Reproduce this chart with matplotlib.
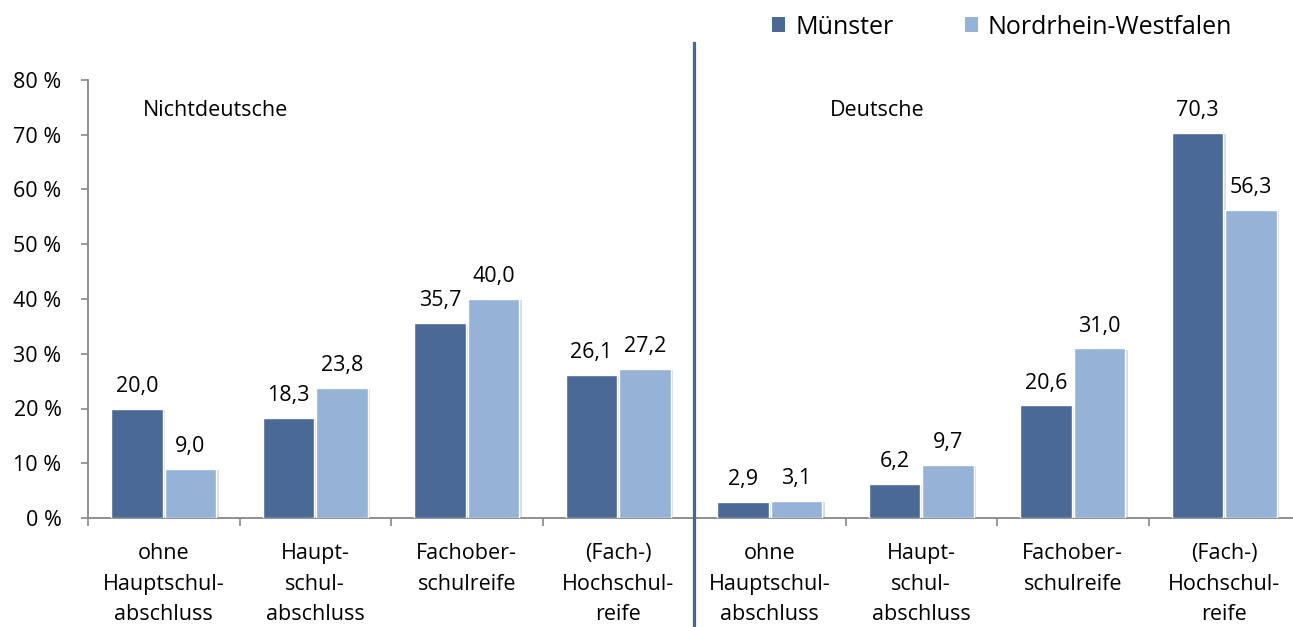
import numpy as np
import matplotlib
matplotlib.use('agg')
import matplotlib.pyplot as plt
import matplotlib.patheffects as pe
import matplotlib.transforms as mtransforms
from matplotlib.patches import Patch

plt.rcParams['font.family'] = ['Open Sans', 'DejaVu Sans']

# ---------------------------------------------------------------- data
categories = ['ohne\nHauptschul-\nabschluss', 'Haupt-\nschul-\nabschluss',
              'Fachober-\nschulreife', '(Fach-)\nHochschul-\nreife',
              'ohne\nHauptschul-\nabschluss', 'Haupt-\nschul-\nabschluss',
              'Fachober-\nschulreife', '(Fach-)\nHochschul-\nreife']
muenster = [20.0, 18.3, 35.7, 26.1, 2.9, 6.2, 20.6, 70.3]
nrw = [9.0, 23.8, 40.0, 27.2, 3.1, 9.7, 31.0, 56.3]
series_names = ['Münster', 'Nordrhein-Westfalen']
group_names = ['Nichtdeutsche', 'Deutsche']
yticks = [0, 10, 20, 30, 40, 50, 60, 70, 80]

c_dark = '#4A6994'
c_light = '#95B3D7'
c_axis = '#878787'
fs = 15.5

# ---------------------------------------------------------------- figure
fig = plt.figure(figsize=(12.93, 6.27), dpi=100)
ax = fig.add_axes([88/1293, 109/627, 1212/1293, 438/627])

x = np.arange(len(categories))
w = 0.343
shadow = [pe.SimplePatchShadow(offset=(1.5, -1), shadow_rgbFace='#999999', alpha=0.35), pe.Normal()]
b1 = ax.bar(x - w/2 - 0.005, muenster, w, color=c_dark, edgecolor='white', linewidth=1.0, zorder=3)
b2 = ax.bar(x + w/2 + 0.005, nrw, w, color=c_light, edgecolor='white', linewidth=1.0, zorder=3)
for bars in (b1, b2):
    for p in bars:
        p.set_path_effects(shadow)

for bars, vals in ((b1, muenster), (b2, nrw)):
    for p, v in zip(bars, vals):
        ax.annotate(f'{v:.1f}'.replace('.', ','), (p.get_x() + p.get_width()/2, v),
                    xytext=(0, 12), textcoords='offset points',
                    ha='center', va='baseline', fontsize=fs, color='black')

ax.set_xlim(-0.5, len(categories) - 0.5)
ax.set_ylim(0, 80)
ax.set_yticks(yticks)
ax.set_yticklabels([f'{t} %' for t in yticks], fontsize=fs)

ax.set_xticks(x)
ax.set_xticklabels(categories, fontsize=fs, linespacing=1.6)
ax.set_xticks(np.arange(len(categories) + 1) - 0.5, minor=True)
ax.tick_params(axis='x', which='major', length=0, pad=18)
ax.tick_params(axis='x', which='minor', length=6, width=1.2, color=c_axis, direction='out')
ax.tick_params(axis='y', length=5, width=1.2, color=c_axis, pad=14)

for s in ('top', 'right'):
    ax.spines[s].set_visible(False)
for s in ('left', 'bottom'):
    ax.spines[s].set_color(c_axis)
    ax.spines[s].set_linewidth(1.3)

# group labels
ax.text(-0.137, 74.5, group_names[0], fontsize=fs, va='center', ha='left')
ax.text(4.398, 74.5, group_names[1], fontsize=fs, va='center', ha='left')

# divider between groups
trans = mtransforms.blended_transform_factory(ax.transData, ax.transAxes)
ax.plot([3.5, 3.5], [-0.25, 1.085], color='#3F69A2', linewidth=2.3,
        transform=trans, clip_on=False, zorder=5)

handles = [Patch(facecolor=c_dark), Patch(facecolor=c_light)]
fig.legend(handles, series_names, loc='center left', bbox_to_anchor=(772/1293, 1 - 27/627),
           ncol=2, frameon=False, fontsize=18, handlelength=0.52, handleheight=0.52,
           handletextpad=0.4, columnspacing=2.85, borderaxespad=0, borderpad=0)

fig.savefig('out.png', dpi=100)
